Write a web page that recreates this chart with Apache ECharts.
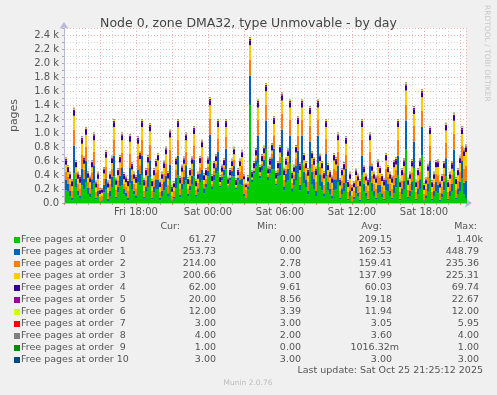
<!DOCTYPE html>
<html><head><meta charset="utf-8">
<script src="https://cdn.jsdelivr.net/npm/echarts@6/dist/echarts.min.js"></script>
<style>html,body{margin:0;padding:0;background:#f0f0f0;}#c{width:497px;height:395px;}</style>
</head><body><div id="c"></div>
<script>
// time of first sample in hours since Fri 00:00, and sample spacing (hours)
const START_HOUR = 12 + 10 / 60;
const STEP_HOURS = 1 / 6;

const seriesNames = ['Free pages at order  0','Free pages at order  1','Free pages at order  2','Free pages at order  3','Free pages at order  4','Free pages at order  5','Free pages at order  6','Free pages at order  7','Free pages at order  8','Free pages at order  9','Free pages at order 10'];
const seriesColors = ['#00CC00','#0066B3','#FF8000','#FFCC00','#330099','#990099','#CCFF00','#FF0000','#808080','#008F00','#00487D'];

const order0 = [
180,160,100,40,420,220,110,60,250,200,300,130,80,200,280,50,100,20,30,150,
200,30,90,220,380,60,150,240,250,120,100,40,280,190,120,70,300,250,400,60,
160,230,360,50,150,200,200,40,100,180,220,90,320,30,60,210,400,80,200,260,
320,100,180,260,380,90,150,300,320,140,220,380,600,200,320,420,450,220,320,400,
480,220,320,380,380,200,320,260,250,100,60,200,1400,300,420,520,560,350,460,520,
760,330,420,480,480,250,380,400,650,180,300,320,560,160,250,330,420,180,560,280,
220,120,500,260,200,100,560,240,180,90,380,180,120,60,180,200,300,50,130,170,
280,40,100,20,50,140,90,30,400,160,90,40,300,170,100,50,140,150,80,40,
180,160,100,50,140,220,400,40,130,190,760,60,100,180,500,40,130,200,680,30,
70,160,350,40,100,170,140,30,80,180,380,40,100,160,450,50,130,170,350,120,
61];
const order1 = [
150,120,70,30,400,130,60,40,240,150,300,90,60,140,260,30,80,10,10,110,
150,30,90,160,300,30,80,150,260,80,50,30,220,130,60,40,180,170,280,30,
70,160,250,30,80,140,130,30,80,130,170,50,230,10,30,150,280,40,80,120,
220,30,70,130,240,30,60,120,160,70,50,80,380,40,80,90,280,30,60,70,
300,20,40,80,150,20,40,70,100,30,10,40,420,30,40,90,400,40,70,100,
420,40,70,160,300,30,60,180,400,60,120,170,400,50,100,200,330,80,400,170,
120,60,380,190,150,70,400,170,120,50,320,120,80,40,160,140,230,30,80,120,
210,20,70,10,40,100,60,20,280,110,60,20,230,120,70,30,120,110,60,20,
150,110,70,30,120,140,280,20,80,130,420,30,70,130,380,20,80,140,410,10,
40,110,250,20,70,130,120,20,60,130,260,20,70,120,310,30,80,130,250,170,
254];
const order2 = [
120,90,100,100,226,90,100,110,196,120,206,80,86,100,196,80,96,60,60,90,
166,90,96,110,226,100,96,110,206,80,80,100,206,90,96,100,196,120,226,90,
96,110,226,90,96,100,146,90,96,110,166,120,206,70,80,110,226,90,96,100,
196,80,86,100,206,70,76,90,176,70,76,60,226,40,56,50,196,30,36,40,
166,20,20,40,90,20,20,120,180,150,120,40,230,20,20,40,226,30,36,50,
226,30,30,60,189,40,30,80,226,90,70,100,226,80,56,110,209,120,226,90,
86,120,222,110,110,130,226,110,110,120,216,100,96,110,146,120,206,100,106,110,
196,100,100,80,80,90,96,110,226,100,96,110,206,100,100,120,136,100,100,110,
156,100,100,120,136,110,226,100,106,120,226,100,100,120,222,100,106,110,226,90,
96,110,216,100,100,120,136,100,100,110,216,100,100,120,226,110,106,150,216,200,
214];
const order3 = [
96,70,76,70,200,70,76,80,160,90,170,60,70,70,160,60,70,40,46,70,
130,70,70,80,180,70,70,80,180,60,66,70,170,70,70,80,170,90,180,70,
70,80,190,70,70,80,130,70,70,80,140,90,180,50,56,80,180,70,70,80,
160,60,60,70,160,50,60,60,140,50,50,40,190,30,40,40,160,20,30,30,
140,16,16,30,76,16,16,80,126,60,36,30,203,16,16,30,180,20,30,40,
190,20,26,50,160,30,26,60,187,70,56,80,180,60,40,80,170,90,180,70,
70,90,170,80,86,100,180,80,86,90,170,70,70,80,120,90,160,70,80,80,
160,70,76,60,56,70,75,80,180,70,75,80,160,70,76,90,120,70,76,80,
120,70,76,90,115,80,180,70,80,90,200,70,76,90,170,70,80,80,194,60,
70,80,170,70,76,90,120,70,76,80,178,70,76,90,190,80,80,120,170,180,
201];
const order4 = [
62,60,58,62,68,60,60,62,66,64,67,58,55,60,66,58,60,48,40,56,
64,60,58,62,68,60,60,62,66,58,55,60,67,60,58,62,66,64,68,60,
60,62,68,60,60,62,64,60,58,62,65,64,67,52,50,60,68,60,60,62,
66,60,60,62,68,58,58,60,65,58,60,60,69,60,62,60,68,58,60,60,
68,58,58,60,64,56,58,60,62,40,30,50,69,58,60,62,69,60,62,64,
69,60,62,64,68,60,60,64,69,62,62,64,69,60,58,64,68,66,69,62,
60,64,68,62,62,64,69,62,60,62,68,58,58,60,64,62,66,60,60,62,
66,56,58,50,45,52,56,60,68,56,56,60,66,58,58,60,62,56,56,60,
64,58,58,60,62,62,68,60,60,62,69,58,58,62,68,60,60,62,69,52,
50,60,66,58,58,60,62,58,56,60,67,58,58,62,68,60,60,62,66,64,
62];
const order5 = [
19,18,18,18,22,18,18,19,21,19,21,17,16,18,21,18,18,15,12,17,
20,18,18,19,22,18,18,19,21,17,17,18,21,18,18,19,21,20,22,18,
18,19,22,18,18,19,20,18,18,19,20,19,21,15,14,18,22,18,18,19,
21,18,18,19,22,18,18,18,20,18,18,18,22,18,19,18,22,18,18,18,
22,18,18,18,20,17,18,18,19,12,9,16,22,18,18,19,22,18,19,20,
22,18,19,20,22,18,18,20,22,19,19,20,22,18,18,20,21,20,22,19,
18,20,22,19,19,20,22,19,18,19,21,18,18,18,20,19,21,18,18,19,
21,17,18,15,14,16,17,18,22,17,17,18,21,18,18,18,19,17,17,18,
20,18,18,18,19,19,22,18,18,19,22,18,18,19,22,18,18,19,22,16,
15,18,21,18,18,18,19,18,17,18,21,18,18,19,22,18,18,19,21,20,
20];
const order6 = [
12,12,12,12,12,12,12,12,12,12,12,12,12,12,12,12,12,10,8,10,
12,12,12,12,12,12,12,12,12,12,12,12,12,12,12,12,12,12,12,12,
12,12,12,12,12,12,12,12,12,12,12,12,12,12,12,12,12,12,12,12,
12,12,12,12,12,12,12,12,12,12,12,12,12,12,12,12,12,12,12,12,
12,12,12,12,12,12,12,12,12,8,4,8,12,12,12,12,12,12,12,12,
12,12,12,12,12,12,12,12,12,12,12,12,12,12,12,12,12,12,12,12,
12,12,12,12,12,12,12,12,12,12,12,12,12,12,12,12,12,12,12,12,
12,12,12,12,12,12,12,12,12,12,12,12,12,12,12,12,12,12,12,12,
12,12,12,12,12,12,12,12,12,12,12,12,12,12,12,12,12,12,12,12,
12,12,12,12,12,12,12,12,12,12,12,12,12,12,12,12,12,12,12,12,
12];
const order7 = [
3,3,3,3,3,3,3,3,3,3,3,3,3,3,3,3,3,3,3,3,
3,3,3,3,3,3,3,3,3,3,3,3,3,3,3,3,3,3,3,3,
3,3,3,3,3,3,3,3,3,3,3,3,3,3,3,3,3,3,3,3,
3,3,3,3,3,3,3,3,3,3,3,3,3,3,3,3,3,3,3,3,
3,3,3,3,3,3,3,3,3,3,3,3,6,3,3,3,3,3,3,3,
4,3,3,3,3,3,3,3,3,3,3,3,3,3,3,3,3,3,3,3,
3,3,3,3,3,3,3,3,3,3,3,3,3,3,3,3,3,3,3,3,
3,3,3,3,3,3,3,3,3,3,3,3,3,3,3,3,3,3,3,3,
3,3,3,3,3,3,3,3,3,3,3,3,3,3,3,3,3,3,3,3,
3,3,3,3,3,3,3,3,3,3,3,3,3,3,3,3,3,3,3,3,
3];
const order8 = [
4,4,4,4,4,4,4,4,4,4,4,4,4,4,4,4,4,4,3,4,
4,4,4,4,4,4,4,4,4,4,4,4,4,4,4,4,4,4,4,4,
4,4,4,4,4,4,4,4,4,4,4,4,4,4,4,4,4,4,4,4,
4,4,4,4,4,4,4,4,4,4,4,4,4,4,4,4,4,4,4,4,
4,4,4,4,4,4,4,4,4,4,2,4,4,4,4,4,4,4,4,4,
4,4,4,4,4,4,4,4,4,4,4,4,4,4,4,4,4,4,4,4,
4,4,4,4,4,4,4,4,4,4,4,4,4,4,4,4,4,4,4,4,
4,4,4,4,3,4,4,4,4,4,4,4,4,4,4,4,4,4,4,4,
4,4,4,4,4,4,4,4,4,4,4,4,4,4,4,4,4,4,4,4,
4,4,4,4,4,4,4,4,4,4,4,4,4,4,4,4,4,4,4,4,
4];
const order9 = [
1,1,1,1,1,1,1,1,1,1,1,1,1,1,1,1,1,1,0,1,
1,1,1,1,1,1,1,1,1,1,1,1,1,1,1,1,1,1,1,1,
1,1,1,1,1,1,1,1,1,1,1,1,1,1,1,1,1,1,1,1,
1,1,1,1,1,1,1,1,1,1,1,1,1,1,1,1,1,1,1,1,
1,1,1,1,1,1,1,1,1,1,0,1,1,1,1,1,1,1,1,1,
1,1,1,1,1,1,1,1,1,1,1,1,1,1,1,1,1,1,1,1,
1,1,1,1,1,1,1,1,1,1,1,1,1,1,1,1,1,1,1,1,
1,1,1,1,1,1,1,1,1,1,1,1,1,1,1,1,1,1,1,1,
1,1,1,1,1,1,1,1,1,1,1,1,1,1,1,1,1,1,1,1,
1,1,1,1,1,1,1,1,1,1,1,1,1,1,1,1,1,1,1,1,
1];
const order10 = [
3,3,3,3,3,3,3,3,3,3,3,3,3,3,3,3,3,3,3,3,
3,3,3,3,3,3,3,3,3,3,3,3,3,3,3,3,3,3,3,3,
3,3,3,3,3,3,3,3,3,3,3,3,3,3,3,3,3,3,3,3,
3,3,3,3,3,3,3,3,3,3,3,3,3,3,3,3,3,3,3,3,
3,3,3,3,3,3,3,3,3,3,3,3,3,3,3,3,3,3,3,3,
3,3,3,3,3,3,3,3,3,3,3,3,3,3,3,3,3,3,3,3,
3,3,3,3,3,3,3,3,3,3,3,3,3,3,3,3,3,3,3,3,
3,3,3,3,3,3,3,3,3,3,3,3,3,3,3,3,3,3,3,3,
3,3,3,3,3,3,3,3,3,3,3,3,3,3,3,3,3,3,3,3,
3,3,3,3,3,3,3,3,3,3,3,3,3,3,3,3,3,3,3,3,
3];

const curText = ['61.27','253.73','214.00','200.66','62.00','20.00','12.00','3.00','4.00','1.00','3.00'];
const minText = ['0.00','0.00','2.78','3.00','9.61','8.56','3.39','3.00','2.00','0.00','3.00'];
const avgText = ['209.15','162.53','159.41','137.99','60.03','19.18','11.94','3.05','3.60','1016.32m','3.00'];
const maxText = ['1.40k','448.79','235.36','225.31','69.74','22.67','12.00','5.95','4.00','1.00','3.00'];

const xTickHours = [18, 24, 30, 36, 42];
const xTickTexts = ['Fri 18:00', 'Sat 00:00', 'Sat 06:00', 'Sat 12:00', 'Sat 18:00'];

const titleText = 'Node 0, zone DMA32, type Unmovable - by day';
const yAxisName = 'pages';
const lastUpdate = 'Last update: Sat Oct 25 21:25:12 2025';
const footer = 'Munin 2.0.76';
const sideText = 'RRDTOOL / TOBI OETIKER';

const allSeries = [order0,order1,order2,order3,order4,order5,order6,order7,order8,order9,order10];
const FONT = '"DejaVu Sans", sans-serif';

const chart = echarts.init(document.getElementById('c'), null, {renderer: 'canvas'});

// value first so that the stacked dimension is the y value; one 2px column per sample
const series = allSeries.map((arr, k) => ({
  name: seriesNames[k],
  type: 'bar',
  stack: 'all',
  barWidth: 2,
  large: false,
  encode: {x: 1, y: 0},
  itemStyle: {color: seriesColors[k], borderWidth: 0},
  emphasis: {disabled: true},
  data: arr.map((v, i) => [v, START_HOUR + i * STEP_HOURS]),
  animation: false
}));

const gfx = [];
const ROW0 = 240, ROWH = 12;
function valText(str, xr, y) {
  const last = str[str.length - 1];
  let off = 0;
  if (last === 'k') off = 4;
  if (last === 'm') off = 7;
  return {type: 'text', silent: true, style: {text: str, x: xr + off, y: y, textAlign: 'right', textVerticalAlign: 'middle', font: '9.5px ' + FONT, fill: '#555'}};
}
[['Cur:',180],['Min:',277],['Avg:',382],['Max:',477]].forEach(h => {
  gfx.push({type: 'text', silent: true, style: {text: h[0], x: h[1], y: 227, textAlign: 'right', textVerticalAlign: 'middle', font: '9.5px ' + FONT, fill: '#555'}});
});
seriesNames.forEach((n, k) => {
  const y = ROW0 + k * ROWH;
  gfx.push({type: 'rect', silent: true, shape: {x: 14, y: y - 3, width: 6, height: 6}, style: {fill: seriesColors[k]}});
  gfx.push({type: 'text', silent: true, style: {text: n, x: 21, y: y, textVerticalAlign: 'middle', font: '9.5px ' + FONT, fill: '#555'}});
  gfx.push(valText(curText[k], 216, y));
  gfx.push(valText(minText[k], 301, y));
  gfx.push(valText(avgText[k], 392, y));
  gfx.push(valText(maxText[k], 479, y));
});
gfx.push({type: 'text', silent: true, style: {text: lastUpdate, x: 483, y: 371, textAlign: 'right', textVerticalAlign: 'middle', font: '9.5px ' + FONT, fill: '#555'}});
gfx.push({type: 'text', silent: true, style: {text: footer, x: 248, y: 383, textAlign: 'center', textVerticalAlign: 'middle', font: '7.5px ' + FONT, fill: '#bbb'}});
gfx.push({type: 'text', silent: true, x: 487, y: 5, rotation: -Math.PI / 2, style: {text: sideText, x: 0, y: 0, textAlign: 'left', textVerticalAlign: 'middle', font: '7.5px ' + FONT, fill: '#c8c8c8'}});

chart.setOption({
  backgroundColor: '#f0f0f0',
  animation: false,
  title: {text: titleText, left: 'center', top: 12, textStyle: {fontSize: 12.5, fontWeight: 'normal', color: '#444', fontFamily: FONT}},
  grid: {left: 64, top: 28, width: 402, height: 175, show: true, backgroundColor: '#ffffff', borderWidth: 0, containLabel: false},
  xAxis: {
    type: 'value', min: 12, max: 45.5, interval: 3,
    axisLine: {show: true, lineStyle: {color: '#b8b8d8', width: 1}, symbol: ['none', 'arrow'], symbolSize: [7, 7], symbolOffset: [0, 6]},
    axisTick: {show: true, length: 2, lineStyle: {color: '#e08080'}},
    minorTick: {show: true, splitNumber: 3, length: 2, lineStyle: {color: '#aaaaaa'}},
    splitLine: {show: true, lineStyle: {color: '#eeb0b0', type: [1, 2], width: 1}},
    minorSplitLine: {show: true, lineStyle: {color: '#d8d8d8', type: [1, 2], width: 1}},
    axisLabel: {
      margin: 4, fontSize: 10, color: '#555', fontFamily: FONT, hideOverlap: false,
      formatter: v => { const j = xTickHours.indexOf(Math.round(v)); return (j >= 0 && Math.abs(v - xTickHours[j]) < 1e-6) ? xTickTexts[j] : ''; }
    }
  },
  yAxis: {
    type: 'value', min: 0, max: 2500, interval: 200,
    name: yAxisName, nameLocation: 'middle', nameRotate: 90, nameGap: 44,
    nameTextStyle: {fontSize: 11, color: '#555', fontFamily: FONT},
    axisLine: {show: true, lineStyle: {color: '#b8b8d8', width: 1}, symbol: ['none', 'arrow'], symbolSize: [7, 7], symbolOffset: [0, 6]},
    axisTick: {show: true, length: 2, lineStyle: {color: '#aaaaaa'}},
    minorTick: {show: true, splitNumber: 2, length: 2, lineStyle: {color: '#aaaaaa'}},
    splitLine: {show: true, lineStyle: {color: '#eeb0b0', type: [1, 2], width: 1}},
    minorSplitLine: {show: true, lineStyle: {color: '#d8d8d8', type: [1, 2], width: 1}},
    axisLabel: {
      margin: 5, fontSize: 10, color: '#555', fontFamily: FONT, hideOverlap: false,
      formatter: v => { if (v > 2400 || v % 200 !== 0) return ''; return v === 0 ? '0.0' : (v / 1000).toFixed(1) + ' k'; }
    }
  },
  series: series,
  graphic: gfx
});
</script>
</body></html>
